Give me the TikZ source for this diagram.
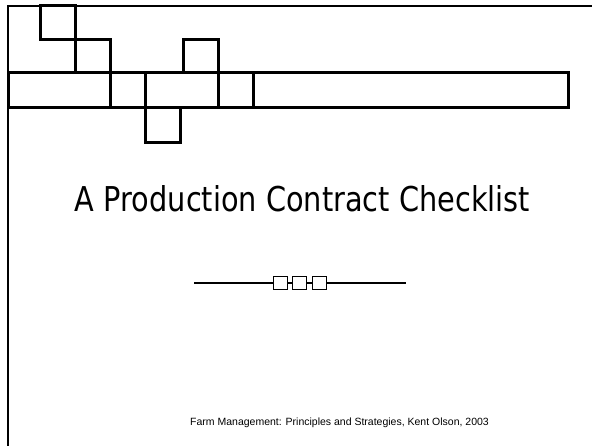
\documentclass[tikz,border=0pt]{standalone}
\usepackage{fontspec}
\setmainfont{DejaVu Sans}
\newfontfamily\footfont{Liberation Sans}
\begin{document}
\begin{tikzpicture}[x=1pt,y=-1pt,
  thinline/.style={line width=2pt,black},
  thickbox/.style={line width=3pt,black},
  orn/.style={line width=2.2pt,black},
  ornbox/.style={draw=black,line width=1pt,fill=white,minimum width=14pt,minimum height=13pt,inner sep=0pt}]
\useasboundingbox (0,0) rectangle (592,446);
% frame lines
\draw[thinline] (8,446) -- (8,6) -- (592,6);
% squares and bar
\draw[thickbox] (8,73) rectangle (568,108);
\draw[thickbox] (40,6) rectangle (75,40);
\draw[thickbox] (75,40) rectangle (110,73);
\draw[thickbox] (110,73) rectangle (145,108);
\draw[thickbox] (145,108) rectangle (180,143);
\draw[thickbox] (183,40) rectangle (218,73);
\draw[thickbox] (218,73) rectangle (253,108);
% title
\node[anchor=base, inner sep=0pt] (title) at (302.5,212)
  {\resizebox{455pt}{26pt}{A Production Contract Checklist}};
% ornament
\coordinate (ol) at (194,283);
\coordinate (or) at (406,283);
\node[ornbox] (b1) at (280,283) {};
\node[ornbox] (b2) at (299.5,283) {};
\node[ornbox] (b3) at (319.5,283) {};
\draw[orn] (ol) -- (b1.west);
\draw[orn] (b1.east) -- (b2.west);
\draw[orn] (b2.east) -- (b3.west);
\draw[orn] (b3.east) -- (or);
% footer
\node[anchor=base west, inner sep=0pt, font=\footfont\fontsize{10.5}{12}\selectfont] (foot) at (190,425)
  {Farm Management: Principles and Strategies, Kent Olson, 2003};
\end{tikzpicture}
\end{document}
